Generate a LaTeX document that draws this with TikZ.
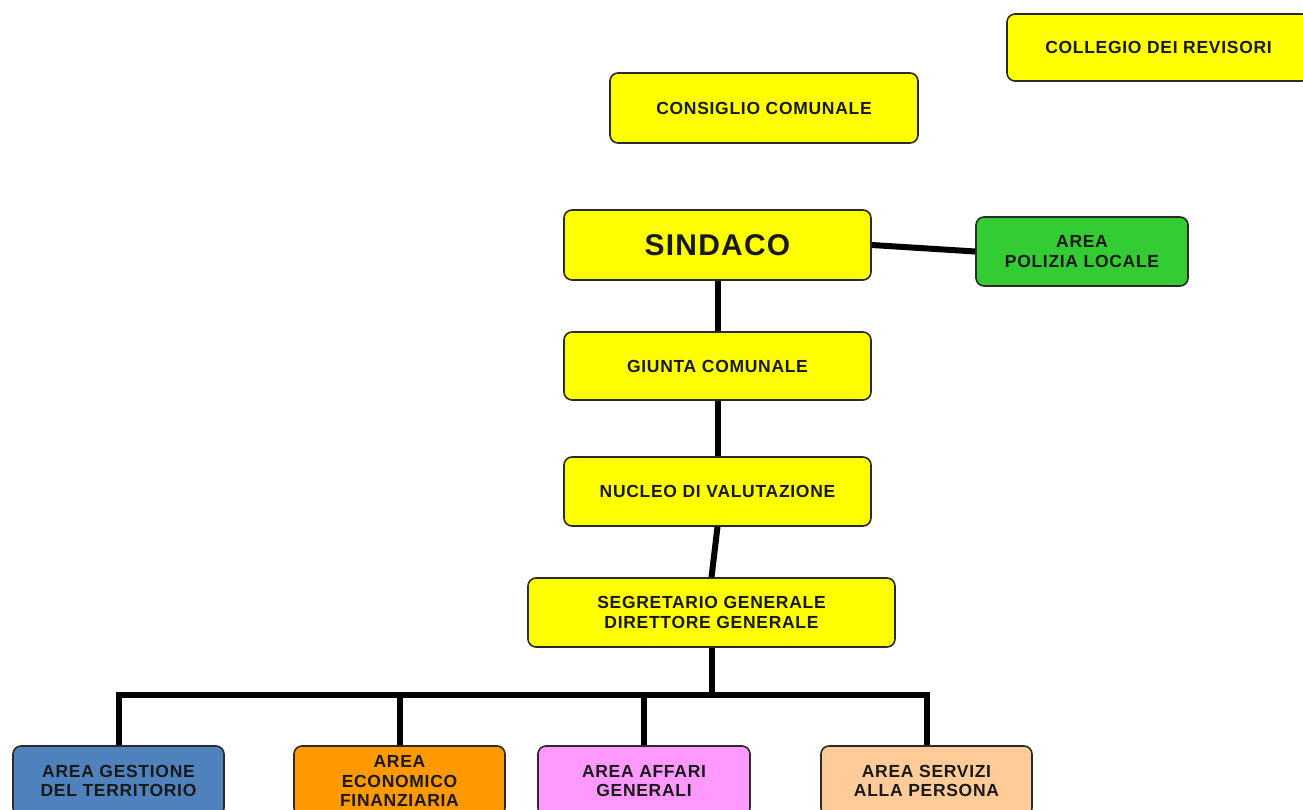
\documentclass[tikz,border=0pt]{standalone}
\usepackage{fontspec}
\setmainfont{Liberation Sans}
\newfontfamily\boxfont[LetterSpace=4]{Liberation Sans}
\definecolor{boxyellow}{HTML}{FFFF00}
\definecolor{boxgreen}{HTML}{33CC33}
\definecolor{boxblue}{HTML}{4F81BD}
\definecolor{boxorange}{HTML}{FF9900}
\definecolor{boxpink}{HTML}{FF99FF}
\definecolor{boxpeach}{HTML}{FFCC99}
\definecolor{boxline}{HTML}{2A2A2A}
\begin{document}
\begin{tikzpicture}[x=1pt,y=-1pt,
  box/.style={draw=boxline, line width=1.6pt, rounded corners=8pt, align=center,
    inner sep=0pt, font=\boxfont\bfseries\fontsize{17.5}{19.5}\selectfont, text=black!90},
  conn/.style={line width=6pt, black, line join=miter}]
\useasboundingbox (0,0) rectangle (1303,810);
% nodes
\node[box, fill=boxyellow, minimum width=303pt, minimum height=67pt] (collegio) at (1158.5,47.5) {COLLEGIO DEI REVISORI};
\node[box, fill=boxyellow, minimum width=308pt, minimum height=70pt] (consiglio) at (764,108) {CONSIGLIO COMUNALE};
\node[box, fill=boxyellow, minimum width=307pt, minimum height=70pt, font=\boxfont\bfseries\fontsize{30}{32}\selectfont] (sindaco) at (717.5,245) {SINDACO};
\node[box, fill=boxgreen, minimum width=212pt, minimum height=69pt] (polizia) at (1082,251.5) {AREA\\POLIZIA LOCALE};
\node[box, fill=boxyellow, minimum width=307pt, minimum height=68pt] (giunta) at (717.5,366) {GIUNTA COMUNALE};
\node[box, fill=boxyellow, minimum width=307pt, minimum height=69pt] (nucleo) at (717.5,491.5) {NUCLEO DI VALUTAZIONE};
\node[box, fill=boxyellow, minimum width=367pt, minimum height=69pt] (segretario) at (711.5,612.5) {SEGRETARIO GENERALE\\DIRETTORE GENERALE};
\node[box, fill=boxblue, minimum width=211pt, minimum height=70pt] (gestione) at (118.5,781) {AREA GESTIONE\\DEL TERRITORIO};
\node[box, fill=boxorange, minimum width=211pt, minimum height=70pt] (economico) at (399.5,781) {AREA\\ECONOMICO\\FINANZIARIA};
\node[box, fill=boxpink, minimum width=212pt, minimum height=70pt] (affari) at (644,781) {AREA AFFARI\\GENERALI};
\node[box, fill=boxpeach, minimum width=211pt, minimum height=70pt] (servizi) at (926.5,781) {AREA SERVIZI\\ALLA PERSONA};
\coordinate (bus) at (0,695);
% connectors
\draw[conn] (sindaco.east) -- (polizia.west);
\draw[conn] (sindaco.south) -- (giunta.north);
\draw[conn] (giunta.south) -- (nucleo.north);
\draw[conn] (nucleo.south) -- (segretario.north);
\draw[conn] (segretario.south) -- (segretario.south |- bus);
\draw[conn] (gestione.north) -- (gestione.north |- bus) -- (servizi.north |- bus) -- (servizi.north);
\draw[conn] (economico.north |- bus) -- (economico.north);
\draw[conn] (affari.north |- bus) -- (affari.north);
\end{tikzpicture}
\end{document}
